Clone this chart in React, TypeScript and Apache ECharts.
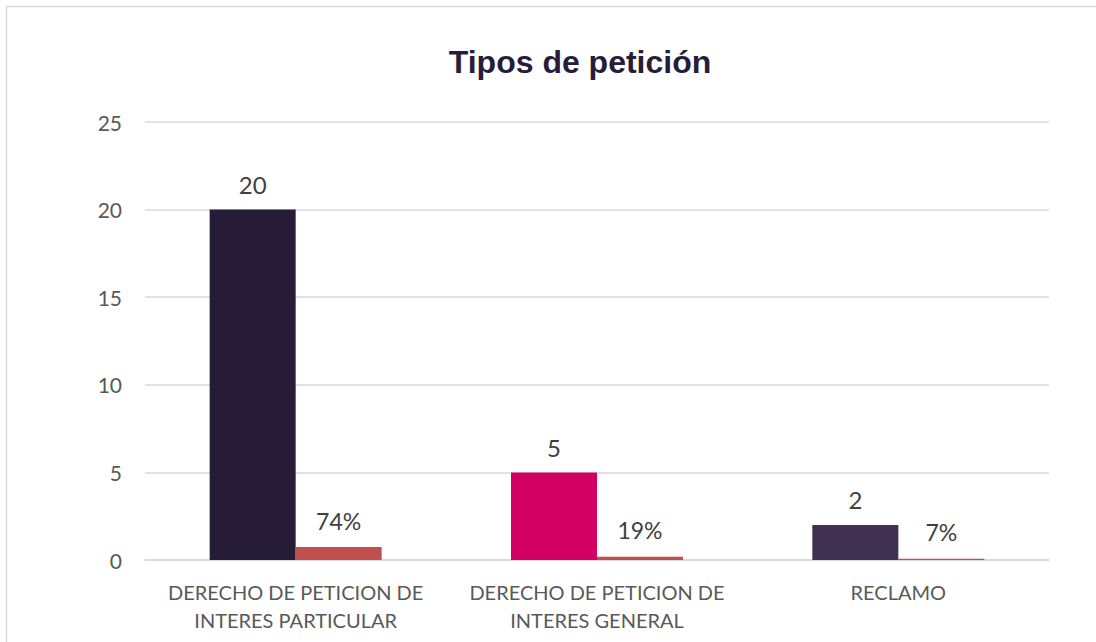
import React, { useEffect, useRef } from "react";
import * as echarts from "echarts";

const categories = [
  "DERECHO DE PETICION DE\nINTERES PARTICULAR",
  "DERECHO DE PETICION DE\nINTERES GENERAL",
  "RECLAMO",
];
const counts = [20, 5, 2];
const countColors = ["#261c38", "#d10062", "#403152"];
const shares = [0.74, 0.19, 0.07];
const titleText = "Tipos de petición";

export default function App() {
  const ref = useRef<HTMLDivElement>(null);
  useEffect(() => {
    if (!ref.current) return;
    const chart = echarts.init(ref.current, null, { renderer: "svg" });
    const font = "Lato, 'Open Sans', sans-serif";
    chart.setOption({
      animation: false,
      backgroundColor: "#ffffff",
      title: {
        text: titleText,
        left: 575,
        top: 41,
        textAlign: "center",
        textStyle: {
          fontFamily: "'Liberation Sans', Arial, sans-serif",
          fontWeight: "bold",
          fontSize: 32,
          color: "#271d3a",
        },
      },
      graphic: [
        {
          type: "rect",
          shape: { x: 6.5, y: 6.5, width: 1200, height: 800 },
          style: { fill: "none", stroke: "#d9d9d9", lineWidth: 1.5 },
          silent: true,
        },
      ],
      grid: { left: 145, right: 47, top: 122, bottom: 82 },
      xAxis: {
        type: "category",
        data: categories,
        axisLine: { show: true, lineStyle: { color: "#d9d9d9", width: 1.5 } },
        axisTick: { show: false },
        axisLabel: {
          fontFamily: font,
          fontSize: 20,
          color: "#595959",
          lineHeight: 28,
          margin: 18,
          interval: 0,
        },
      },
      yAxis: {
        type: "value",
        min: 0,
        max: 25,
        interval: 5,
        axisLine: { show: false },
        axisTick: { show: false },
        splitLine: { lineStyle: { color: "#d9d9d9", width: 1.5 } },
        axisLabel: {
          fontFamily: font,
          fontSize: 21,
          color: "#595959",
          margin: 23,
        },
      },
      series: [
        {
          type: "bar",
          data: counts.map((v, i) => ({ value: v, itemStyle: { color: countColors[i] } })),
          barWidth: 86,
          barGap: "0%",
          label: {
            show: true,
            position: "top",
            distance: 13,
            fontFamily: font,
            fontSize: 24,
            color: "#404040",
          },
        },
        {
          type: "bar",
          data: shares,
          barWidth: 86,
          barGap: "0%",
          itemStyle: { color: "#c0504d" },
          label: {
            show: true,
            position: "top",
            distance: 15,
            fontFamily: font,
            fontSize: 23,
            color: "#404040",
            formatter: (p: any) => Math.round(p.value * 100) + "%",
          },
        },
      ],
    });
    return () => chart.dispose();
  }, []);
  return (
    <div
      ref={ref}
      style={{ position: "fixed", left: 0, top: 0, width: 1096, height: 642 }}
    />
  );
}
